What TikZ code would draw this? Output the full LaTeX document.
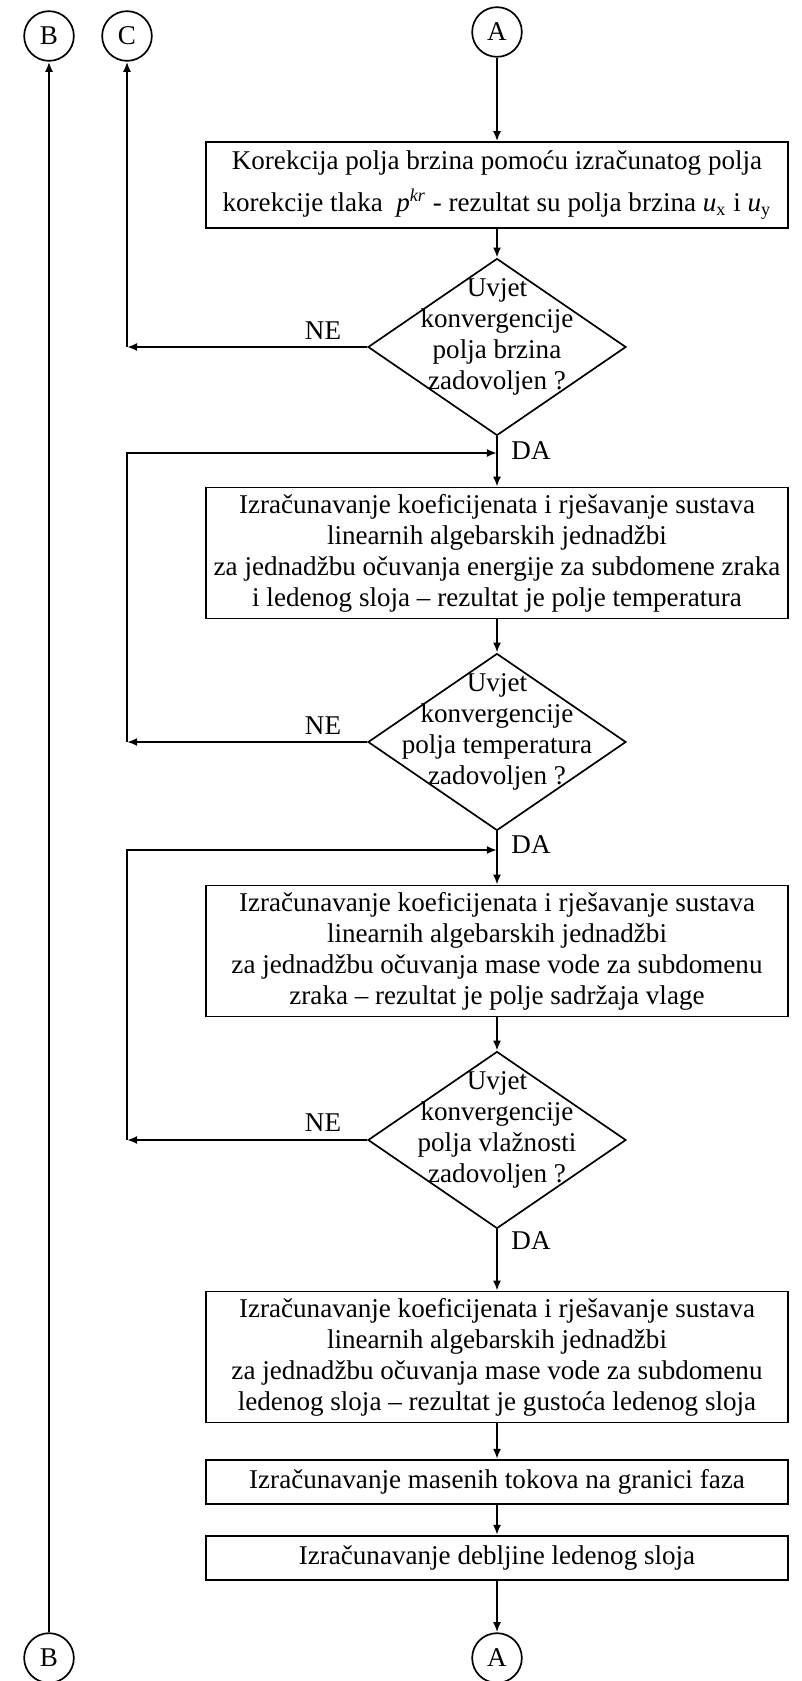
\documentclass[tikz,border=0pt]{standalone}
\usepackage{fontspec}
\setmainfont{Liberation Serif}
\usetikzlibrary{arrows.meta,positioning,shapes.geometric}

\begin{document}
\begin{tikzpicture}[
  x=0.443pt, y=-0.443pt,
  font=\fontsize{12pt}{13.7pt}\selectfont,
  box/.style={draw, line width=0.75pt, align=center, minimum width=258pt, inner sep=2pt},
  cond/.style={draw, diamond, line width=0.75pt, minimum width=114.3pt, minimum height=78.4pt, inner sep=0pt},
  condtext/.style={align=center, yshift=4.4pt},
  conn/.style={draw, circle, line width=0.75pt, minimum size=22pt, inner sep=0pt},
  arrow/.style={-{Latex[length=4.5pt,width=3.6pt]}, line width=1pt},
  lbl/.style={inner sep=0pt}
]
\useasboundingbox (0,0) rectangle (802,1681);

% spojnice
\node[conn] (Btop) at (49,36) {B};
\node[conn] (Ctop) at (127,36) {C};
\node[conn] (Atop) at (497,32) {A};
\node[conn] (Bbot) at (49,1658) {B};
\node[conn] (Abot) at (497,1658) {A};

% brzine
\node[box, minimum height=38pt] (korekcija) at (497,185)
  {Korekcija polja brzina pomoću izračunatog polja\\[5pt]
   korekcije tlaka~ \textit{p}\textsuperscript{\textit{kr}} - rezultat su polja brzina \textit{u}\textsubscript{x} i \textit{u}\textsubscript{y}};
\node[cond, label={[condtext]center:Uvjet\\konvergencije\\polja brzina\\zadovoljen ?}] (uvjetV) at (497,347) {};

% temperatura
\node[box, minimum height=58pt] (energija) at (497,553)
  {Izračunavanje koeficijenata i rješavanje sustava\\
   linearnih algebarskih jednadžbi\\
   za jednadžbu očuvanja energije za subdomene zraka\\
   i ledenog sloja -- rezultat je polje temperatura};
\node[cond, label={[condtext]center:Uvjet\\konvergencije\\polja temperatura\\zadovoljen ?}] (uvjetT) at (497,742) {};

% vlaga
\node[box, minimum height=58pt] (vlaga) at (497,951)
  {Izračunavanje koeficijenata i rješavanje sustava\\
   linearnih algebarskih jednadžbi\\
   za jednadžbu očuvanja mase vode za subdomenu\\
   zraka -- rezultat je polje sadržaja vlage};
\node[cond, label={[condtext]center:Uvjet\\konvergencije\\polja vlažnosti\\zadovoljen ?}] (uvjetW) at (497,1140) {};

% ledeni sloj
\node[box, minimum height=58pt] (gustoca) at (497,1357)
  {Izračunavanje koeficijenata i rješavanje sustava\\
   linearnih algebarskih jednadžbi\\
   za jednadžbu očuvanja mase vode za subdomenu\\
   ledenog sloja -- rezultat je gustoća ledenog sloja};
\node[box, minimum height=19.7pt] (tokovi) at (497,1482) {Izračunavanje masenih tokova na granici faza};
\node[box, minimum height=19.7pt] (debljina) at (497,1558) {Izračunavanje debljine ledenog sloja};

% oznake
\node[lbl] (neV) at (323,331) {NE};
\node[lbl] (neT) at (323,726) {NE};
\node[lbl] (neW) at (323,1123) {NE};
\node[lbl] (daV) at (531,451) {DA};
\node[lbl] (daT) at (531,845) {DA};
\node[lbl] (daW) at (531,1241) {DA};

\coordinate (cC) at (127,347);
\coordinate (cT) at (127,742);
\coordinate (jT) at (497,453);
\coordinate (cW) at (127,1140);
\coordinate (jW) at (497,850);

\draw[arrow] (Atop) -- (korekcija);
\draw[arrow] (korekcija) -- (uvjetV);
\draw[arrow] (uvjetV.west) -- (cC);
\draw[arrow] (cC) -- (Ctop);
\draw[arrow] (uvjetV) -- (energija);
\draw[arrow] (energija) -- (uvjetT);
\draw[arrow] (uvjetT.west) -- (cT);
\draw[arrow] (cT) |- (jT);
\draw[arrow] (uvjetT) -- (vlaga);
\draw[arrow] (vlaga) -- (uvjetW);
\draw[arrow] (uvjetW.west) -- (cW);
\draw[arrow] (cW) |- (jW);
\draw[arrow] (uvjetW) -- (gustoca);
\draw[arrow] (gustoca) -- (tokovi);
\draw[arrow] (tokovi) -- (debljina);
\draw[arrow] (debljina) -- (Abot);
\draw[arrow] (Bbot) -- (Btop);
\end{tikzpicture}
\end{document}
